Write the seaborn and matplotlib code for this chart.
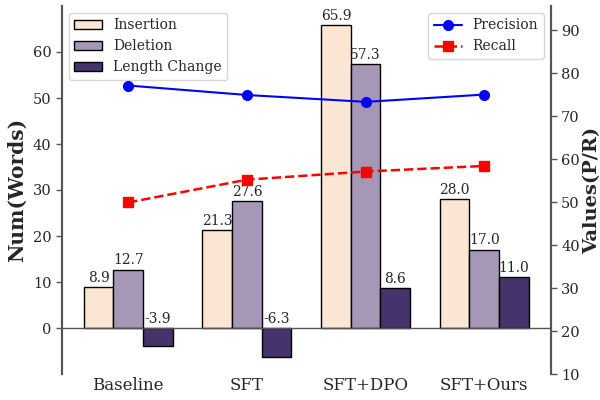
import seaborn as sns
import pandas as pd
import numpy as np
import matplotlib.pyplot as plt

methods = ["Baseline", "SFT", "SFT+DPO", "SFT+Ours"]
insertion = [8.9, 21.3, 65.9, 28.0]
deletion = [12.7, 27.6, 57.3, 17.0]
length_change = [-3.9, -6.3, 8.6, 11.0]
precision = [77.1, 74.9, 73.3, 75.0]
recall = [49.9, 55.2, 57.1, 58.4]

sns.set_style("white")
plt.rcParams['font.family'] = ['DejaVu Serif']

df = pd.DataFrame({"Method": methods * 3,
                   "Metric": ["Insertion"] * 4 + ["Deletion"] * 4 + ["Length Change"] * 4,
                   "Value": insertion + deletion + length_change})
colors = ["#fae6d2", "#a597b5", "#45336b"]

fig = plt.figure(figsize=(6, 4), dpi=100)
ax1 = fig.add_axes([0.103, 0.065, 0.815, 0.92])
ax2 = ax1.twinx()

sns.barplot(data=df, x="Method", y="Value", hue="Metric", palette=colors, saturation=1,
            width=0.75, edgecolor="black", linewidth=1, ax=ax1, legend=True)
for cont in ax1.containers:
    for bar in cont:
        h = bar.get_height()
        ax1.text(bar.get_x() + bar.get_width() / 2, max(h, 0) + 0.5, f"{h:.1f}",
                 ha="center", va="bottom", fontsize=10)

ax1.axhline(0, color="#555555", linewidth=1)
ax1.set_ylim(-10, 70)
ax1.set_xlim(-0.56, 3.56)
ax1.set_yticks([0, 10, 20, 30, 40, 50, 60])
ax1.set_xlabel("")
ax1.set_ylabel("Num(Words)", fontsize=14.5, fontweight="bold", labelpad=4)
ax1.tick_params(axis="x", length=0, labelsize=12, pad=2)
ax1.tick_params(axis="y", labelsize=10.5, color="#555555", length=4, width=1, left=True, pad=3.5)
ax1.legend(loc="upper left", fontsize=10)

x = np.arange(len(methods))
ax2.plot(x, precision, color="blue", marker="o", markersize=7, linestyle="-", linewidth=1.5, label="Precision")
ax2.plot(x, recall, color="red", marker="s", markersize=7, linestyle="--", linewidth=1.8, label="Recall")
ax2.set_ylim(10, 95.6)
ax2.set_yticks([10, 20, 30, 40, 50, 60, 70, 80, 90])
ax2.set_ylabel("Values(P/R)", fontsize=14, fontweight="bold", labelpad=2)
ax2.tick_params(axis="y", labelsize=10.5, color="#555555", length=4, width=1, right=True, pad=3.5)
ax2.legend(loc="upper right", fontsize=10)

for a in (ax1, ax2):
    a.spines["top"].set_visible(False)
    a.spines["bottom"].set_visible(False)
    a.spines["left"].set_color("#555555")
    a.spines["right"].set_color("#555555")
    a.spines["left"].set_linewidth(1.5)
    a.spines["right"].set_linewidth(1.5)

plt.savefig("out.png", dpi=100)
